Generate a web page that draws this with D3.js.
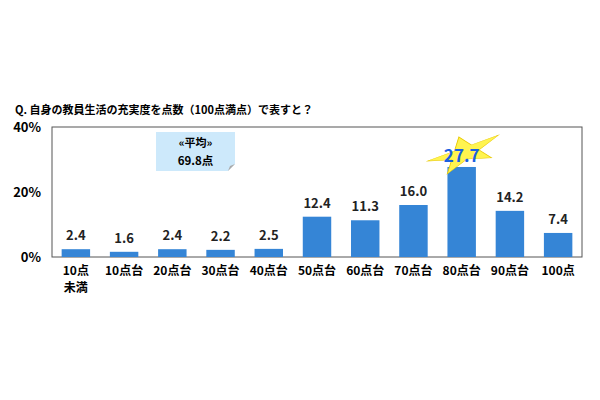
<!DOCTYPE html><html><head><meta charset="utf-8"><script src="https://cdn.jsdelivr.net/npm/d3@7"></script>
<style>body{margin:0;background:#fff}text{font-family:"Noto Sans CJK JP",sans-serif;font-weight:bold}</style></head><body><svg width="600" height="400"></svg><script>
const categories=["10点\n未満","10点台","20点台","30点台","40点台","50点台","60点台","70点台","80点台","90点台","100点"];
const values=[2.4,1.6,2.4,2.2,2.5,12.4,11.3,16.0,27.7,14.2,7.4];
const yTicks=[0,20,40];
const svg=d3.select("svg");
const L=52,R=582,T=127,B=257;
const x=d3.scaleBand().domain(categories).range([L,R]).paddingInner(0.41).paddingOuter(0.2);
const y=d3.scaleLinear().domain([0,40]).range([B,T]);
svg.append("text").attr("x",15).attr("y",114).attr("font-size",11).text("Q.  自身の教員生活の充実度を点数（100点満点）で表すと？");
svg.append("rect").attr("x",L).attr("y",T).attr("width",R-L).attr("height",B-T).attr("fill","none").attr("stroke","#555").attr("stroke-width",1);
svg.selectAll(".yt").data(yTicks).join("text").attr("x",41).attr("y",d=>y(d)+5).attr("text-anchor","end").attr("font-size",13).text(d=>d+"%");
const cx=156,cy=132,cw=79,ch=39;
svg.append("path").attr("d",`M${cx},${cy}H${cx+cw}V${cy+ch-7}L${cx+cw-7},${cy+ch}H${cx}Z`).attr("fill","#cde9fb");
svg.append("path").attr("d",`M${cx+cw},${cy+ch-7}L${cx+cw-7},${cy+ch}L${cx+cw-5},${cy+ch-5}Z`).attr("fill","#aaa");
svg.append("text").attr("x",cx+cw/2).attr("y",cy+15).attr("text-anchor","middle").attr("font-size",11).text("«平均»");
svg.append("text").attr("x",cx+cw/2).attr("y",cy+33).attr("text-anchor","middle").attr("font-size",11.5).text("69.8点");
svg.selectAll(".bar").data(values).join("rect").attr("x",(d,i)=>x(categories[i])).attr("y",d=>y(d)).attr("width",x.bandwidth()).attr("height",d=>B-y(d)).attr("fill","#3585d6");
const mi=values.indexOf(d3.max(values));
const sx=x(categories[mi])+x.bandwidth()/2, sy=y(values[mi])-14;
const star=d3.symbol().type(d3.symbolStar).size(450)();
svg.append("path").attr("d",star).attr("transform",`translate(${sx+3},${sy}) rotate(-20) scale(2.0,0.85)`).attr("fill","#fff44f").attr("stroke","#e8c800").attr("stroke-width",0.5);
svg.selectAll(".lab").data(values).join("text").attr("x",(d,i)=>x(categories[i])+x.bandwidth()/2).attr("y",(d,i)=>y(d)-(i===mi?5:9)).attr("text-anchor","middle")
 .attr("font-size",(d,i)=>i===mi?17:13).attr("fill",(d,i)=>i===mi?"#1a5fe0":"#222").text(d=>d.toFixed(1));
categories.forEach((c,i)=>{const t=svg.append("text").attr("x",x(c)+x.bandwidth()/2).attr("y",275).attr("text-anchor","middle").attr("font-size",12);
 c.split("\n").forEach((s,j)=>t.append("tspan").attr("x",x(c)+x.bandwidth()/2).attr("dy",j?17:0).text(s));});
</script></body></html>
